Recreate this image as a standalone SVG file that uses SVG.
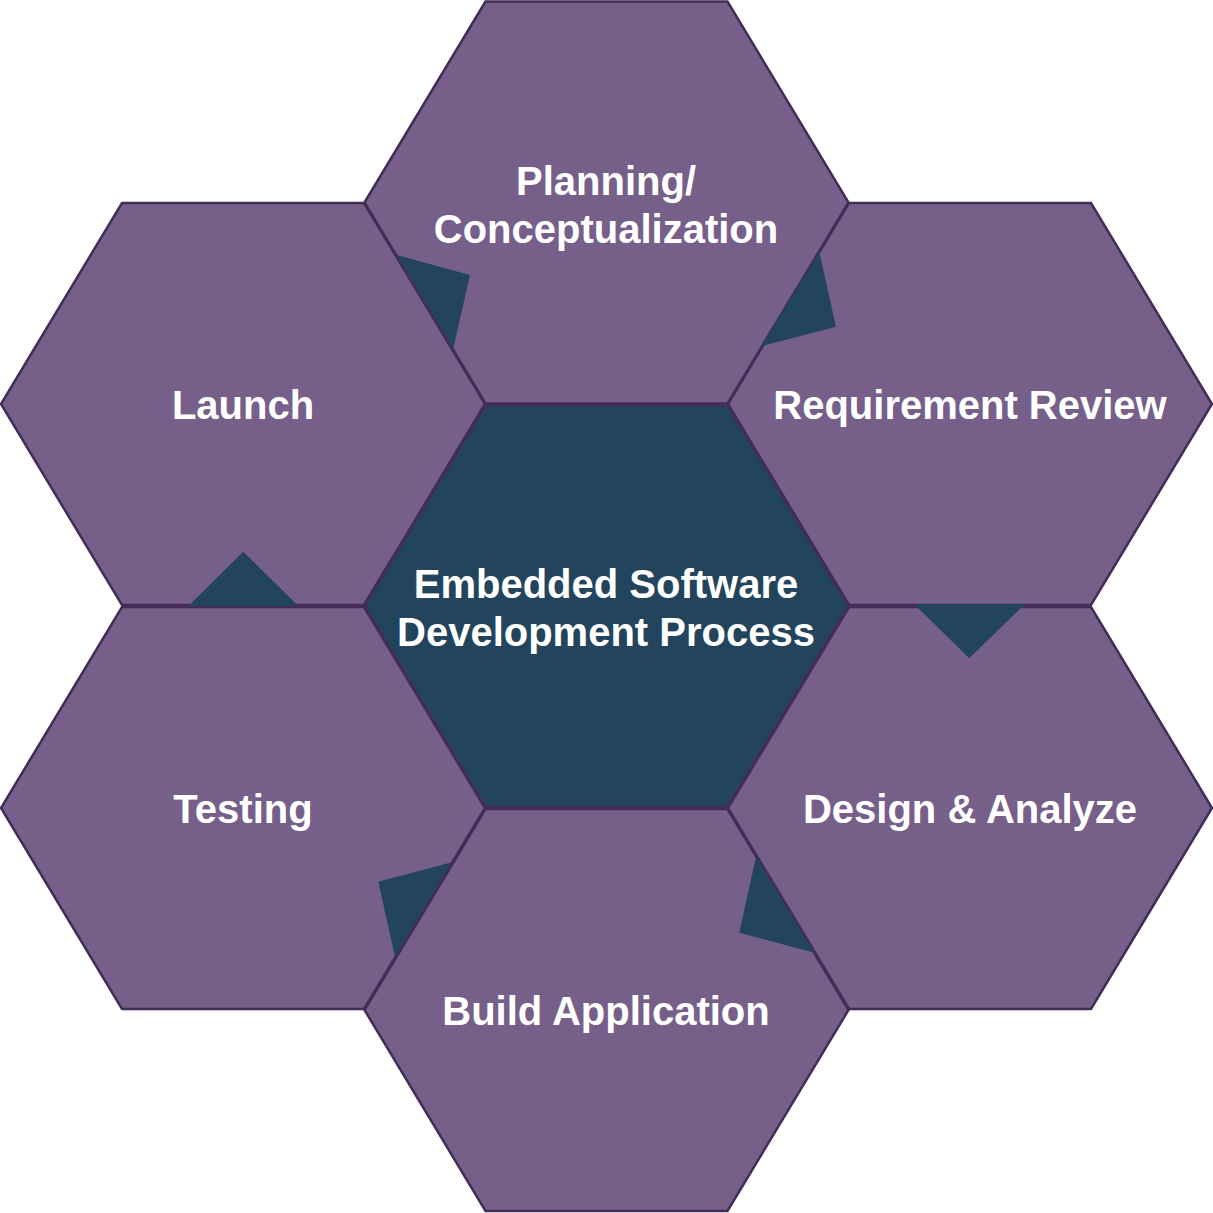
<svg xmlns="http://www.w3.org/2000/svg" width="1213" height="1213" viewBox="0 0 1213 1213">
<style>
.hex{fill:#76608A;stroke:#432D57;stroke-width:2.5;stroke-linejoin:miter}
.core{fill:#23445D;stroke:#432D57;stroke-width:2.5}
.lbl{fill:#FFFFFF;font-family:"Liberation Sans",Arial,sans-serif;font-weight:bold;font-size:40px;text-anchor:middle}
.arr{fill:#23445D;stroke:none}
</style>
<defs>
<polygon id="hx" points="-242,0 -121,-201 121,-201 242,0 121,201 -121,201"/>
</defs>
<rect width="1213" height="1213" fill="#FFFFFF"/>
<g id="node-planning"><use href="#hx" class="hex" x="606.5" y="202.5"/><text class="lbl" x="606" y="195">Planning/</text><text class="lbl" x="606" y="243">Conceptualization</text></g>
<g id="node-launch"><use href="#hx" class="hex" x="243" y="404"/><text class="lbl" x="243" y="419">Launch</text></g>
<g id="node-requirement"><use href="#hx" class="hex" x="970" y="404"/><text class="lbl" x="970" y="419">Requirement Review</text></g>
<g id="node-design"><use href="#hx" class="hex" x="970" y="808"/><text class="lbl" x="970" y="823">Design &amp; Analyze</text></g>
<g id="node-build"><use href="#hx" class="hex" x="606.5" y="1010"/><text class="lbl" x="606" y="1025">Build Application</text></g>
<g id="node-testing"><use href="#hx" class="hex" x="243" y="808"/><text class="lbl" x="243" y="823">Testing</text></g>
<g id="node-center"><use href="#hx" class="core" x="606.5" y="606"/><text class="lbl" x="606" y="598">Embedded Software</text><text class="lbl" x="606" y="646">Development Process</text></g>
<g id="connectors">
<polygon class="arr" points="396.7,255 470,275 453.3,348.3"/>
<polygon class="arr" points="819.3,251.7 836,326.7 761.7,346"/>
<polygon class="arr" points="914,604 1025,604 969.3,658.3"/>
<polygon class="arr" points="756,856.7 814.3,952.7 739.3,932.7"/>
<polygon class="arr" points="451.7,862.3 378.3,881.7 395,956.7"/>
<polygon class="arr" points="188.3,606 298.3,606 243.3,551.7"/>
</g>
</svg>
